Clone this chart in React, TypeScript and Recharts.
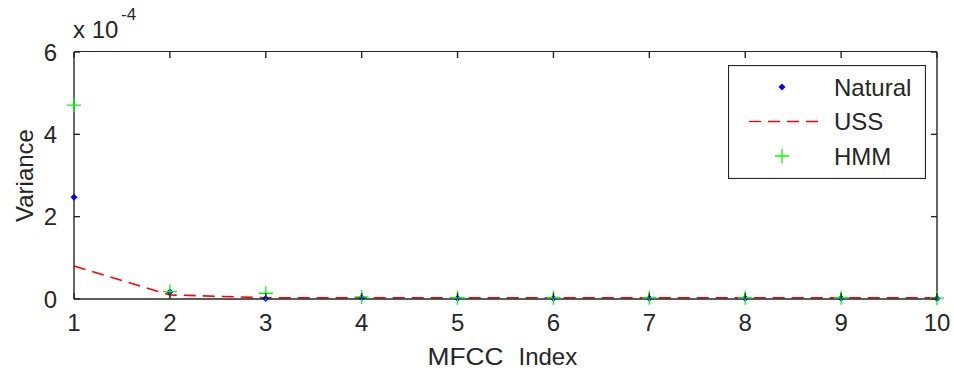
import React from 'react';
import {
    ComposedChart, Line, Scatter, XAxis, YAxis, Legend, Label, ReferenceLine,
} from 'recharts';

const mfccIndex = [1, 2, 3, 4, 5, 6, 7, 8, 9, 10];
// variances in units of 1e-4
const natural = [2.47, 0.17, 0.01, 0.03, 0.02, 0.02, 0.02, 0.02, 0.02, 0.01];
const uss = [0.8, 0.1, 0.03, 0.03, 0.03, 0.03, 0.03, 0.03, 0.03, 0.03];
const hmm = [4.71, 0.18, 0.14, 0.05, 0.03, 0.03, 0.03, 0.03, 0.03, 0.02];
const yTicks = [0, 2, 4, 6];

const FONT = '"Liberation Sans", Arial, sans-serif';
const TEXT = '#262626';
const AXIS = '#262626';
const FS = 24;
const TICK = 6;
const PLOT_TOP = 52;
const PLOT_LEFT = 74;
const PLOT_RIGHT = 937;

const data = mfccIndex.map((idx, i) => ({
    idx,
    natural: natural[i] * 1e-4,
    uss: uss[i] * 1e-4,
    hmm: hmm[i] * 1e-4,
}));

const Dot = (props: any) => {
    const { cx, cy } = props;
    if (cx == null || cy == null) return null;
    return <path d={`M${cx},${cy - 3.5}L${cx + 3.5},${cy}L${cx},${cy + 3.5}L${cx - 3.5},${cy}Z`} fill="#0000ff" />;
};

const Plus = (props: any) => {
    const { cx, cy } = props;
    if (cx == null || cy == null) return null;
    return (
        <path d={`M${cx - 7},${cy}H${cx + 7}M${cx},${cy - 7}V${cy + 7}`}
            stroke="#00ff00" strokeWidth={1.3} fill="none" />
    );
};

// inward ticks, MATLAB style
const BottomTick = (props: any) => {
    const { x, y, payload } = props;
    const y0 = y - 15;
    return (
        <g>
            <line x1={x} x2={x} y1={y0} y2={y0 - TICK} stroke={AXIS} strokeWidth={1.4} />
            <text x={x} y={y} dy="0.71em" textAnchor="middle" fill={TEXT} fontSize={FS} fontFamily={FONT}>
                {payload.value}
            </text>
        </g>
    );
};

const LeftTick = (props: any) => {
    const { x, y, payload } = props;
    const x0 = x + 17;
    return (
        <g>
            <line x1={x0} x2={x0 + TICK} y1={y} y2={y} stroke={AXIS} strokeWidth={1.4} />
            <text x={x} y={y} dy="0.355em" textAnchor="end" fill={TEXT} fontSize={FS} fontFamily={FONT}>
                {Math.round(payload.value * 1e4)}
            </text>
        </g>
    );
};

const RightTick = (props: any) => {
    const { x, y } = props;
    return <line x1={x} x2={x - TICK} y1={y} y2={y} stroke={AXIS} strokeWidth={1.4} />;
};

// short tick hanging from the top edge, placed by the x scale
const TopTick = (props: any) => {
    const { x1, y1, y2 } = props;
    if (x1 == null) return null;
    const top = Math.min(y1, y2);
    return <path d={`M${x1},${top}V${top + TICK}`} stroke={AXIS} strokeWidth={1.4} fill="none" />;
};

const LegendBox = () => {
    const rows = [
        { name: 'Natural', kind: 'dot' },
        { name: 'USS', kind: 'line' },
        { name: 'HMM', kind: 'plus' },
    ];
    return (
        <svg width={198} height={114} style={{ display: 'block' }}>
            <rect x={0.5} y={0.5} width={197} height={113} fill="#fff" stroke={AXIS} strokeWidth={1.2} />
            {rows.map((r, i) => {
                const y = 22 + i * 34.5;
                return (
                    <g key={r.name}>
                        {r.kind === 'dot' && <Dot cx={54} cy={y} />}
                        {r.kind === 'line' && (
                            <line x1={21} x2={97} y1={y} y2={y} stroke="#ff0000" strokeWidth={1.3} strokeDasharray="12 7" />
                        )}
                        {r.kind === 'plus' && <Plus cx={54} cy={y} />}
                        <text x={106} y={y + 8.5} fontSize={FS} fontFamily={FONT} fill={TEXT}>{r.name}</text>
                    </g>
                );
            })}
        </svg>
    );
};

const YLabel = (props: any) => {
    const { viewBox } = props;
    const { y, height } = viewBox;
    const cy = y + height / 2;
    return (
        <g fontFamily={FONT} fill={TEXT}>
            <text x={33} y={cy} transform={`rotate(-90, 33, ${cy})`} textAnchor="middle" fontSize={FS}>Variance</text>
            <text x={73} y={38} fontSize={FS}>x 10</text>
            <text x={121} y={20} fontSize={17}>-4</text>
        </g>
    );
};

const XLabel = (props: any) => {
    const { viewBox } = props;
    const { x, width } = viewBox;
    const cx = x + width / 2;
    return (
        <g fontFamily={FONT} fill={TEXT} fontSize={FS}>
            <text x={cx - 78} y={365} textLength={76} lengthAdjust="spacingAndGlyphs">MFCC</text>
            <text x={cx + 13} y={365}>Index</text>
        </g>
    );
};

export default function App() {
    const yMax = yTicks[yTicks.length - 1] * 1e-4;
    return (
        <div style={{ position: 'absolute', left: 0, top: 0, width: 954, height: 376, background: '#fff' }}>
            <ComposedChart
                width={954}
                height={376}
                data={data}
                margin={{ top: PLOT_TOP, right: 0, bottom: 0, left: 0 }}
            >
                <XAxis
                    xAxisId="b"
                    dataKey="idx"
                    type="number"
                    domain={[1, 10]}
                    ticks={mfccIndex}
                    height={77}
                    stroke={AXIS}
                    axisLine={{ strokeWidth: 1.4 }}
                    tickLine={false}
                    tickSize={0}
                    tickMargin={15}
                    tick={BottomTick}
                >
                    <Label content={XLabel} />
                </XAxis>
                <YAxis
                    yAxisId="l"
                    type="number"
                    domain={[0, yMax]}
                    ticks={yTicks.map(t => t * 1e-4)}
                    width={74}
                    stroke={AXIS}
                    axisLine={{ strokeWidth: 1.4 }}
                    tickLine={false}
                    tickSize={0}
                    tickMargin={17}
                    tick={LeftTick}
                >
                    <Label content={YLabel} />
                </YAxis>
                <YAxis
                    yAxisId="r"
                    orientation="right"
                    type="number"
                    domain={[0, yMax]}
                    ticks={yTicks.map(t => t * 1e-4)}
                    width={17}
                    stroke={AXIS}
                    axisLine={{ strokeWidth: 1.4 }}
                    tickLine={false}
                    tickSize={0}
                    tickMargin={0}
                    tick={RightTick}
                />
                {mfccIndex.map(k => (
                    <ReferenceLine key={k} xAxisId="b" yAxisId="l" x={k} ifOverflow="visible" shape={TopTick} />
                ))}
                {/* invisible copy on the right axis so it gets drawn */}
                <Line
                    xAxisId="b"
                    yAxisId="r"
                    dataKey="uss"
                    stroke="none"
                    dot={false}
                    activeDot={false}
                    legendType="none"
                    isAnimationActive={false}
                />
                <Line
                    xAxisId="b"
                    yAxisId="l"
                    dataKey="uss"
                    name="USS"
                    stroke="#ff0000"
                    strokeWidth={1.6}
                    strokeDasharray="12 7"
                    dot={false}
                    activeDot={false}
                    isAnimationActive={false}
                />
                <Scatter
                    xAxisId="b"
                    yAxisId="l"
                    dataKey="natural"
                    name="Natural"
                    shape={Dot}
                    isAnimationActive={false}
                />
                <Scatter
                    xAxisId="b"
                    yAxisId="l"
                    dataKey="hmm"
                    name="HMM"
                    shape={Plus}
                    isAnimationActive={false}
                />
                <Legend
                    content={LegendBox}
                    layout="vertical"
                    verticalAlign="middle"
                    align="center"
                    wrapperStyle={{ left: 728, top: 65, width: 198, height: 114 }}
                />
            </ComposedChart>
            {/* top edge of the axes box */}
            <div
                style={{
                    position: 'absolute',
                    left: PLOT_LEFT,
                    top: PLOT_TOP - 1,
                    width: PLOT_RIGHT - PLOT_LEFT,
                    height: 0,
                    borderTop: `1.5px solid ${AXIS}`,
                    pointerEvents: 'none',
                }}
            />
        </div>
    );
}
